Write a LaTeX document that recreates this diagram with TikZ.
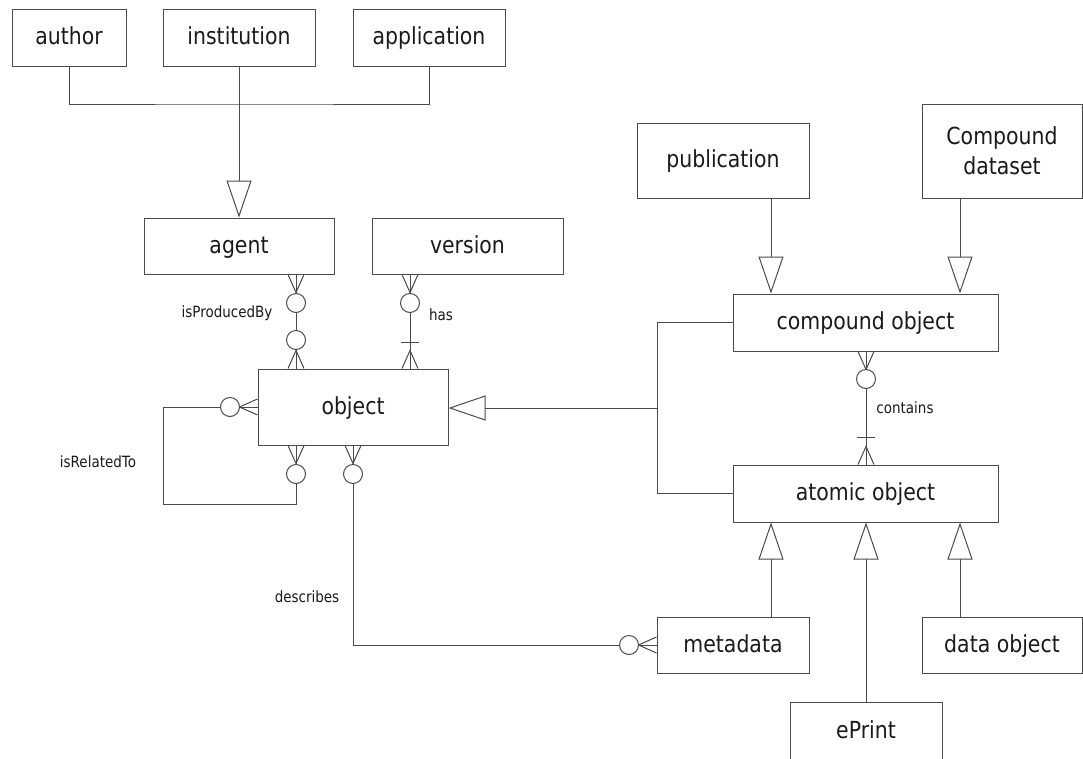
\documentclass[tikz,border=0pt]{standalone}
\usepackage{fontspec}
\setmainfont{DejaVu Sans}[FakeStretch=0.87]
\usetikzlibrary{calc,arrows.meta}
\definecolor{lgray}{HTML}{4A4A4A}
\definecolor{ink}{HTML}{1A1A1A}
\tikzset{
  ent/.style={draw=lgray, line width=1pt, fill=white, text=ink, inner sep=0pt, align=center,
    text height=18pt, text depth=4pt, font=\fontsize{23.5}{30}\selectfont},
  rel/.style={draw=lgray, line width=1pt},
  isa/.style={rel, -{Triangle[open, length=37pt, width=25pt]}},
  ring/.style={circle, draw=lgray, line width=1pt, fill=white, minimum size=19pt, inner sep=0pt},
  lab/.style={text=ink, font=\fontsize{15.5}{18}\selectfont},
  crow/.pic={\draw[rel] (-8,0) -- (0,18) -- (8,0);},
}

\begin{document}
\begin{tikzpicture}[x=1pt, y=-1pt]
  \useasboundingbox (0,0) rectangle (1083,758);
  \clip (0,0) rectangle (1083,758);
  \fill[white] (0,0) rectangle (1083,758);
  % entities
  \node[ent, minimum width=114, minimum height=57] (author) at (69,37.5) {author};
  \node[ent, minimum width=152, minimum height=57] (inst) at (239,37.5) {institution};
  \node[ent, minimum width=152, minimum height=57] (appl) at (429,37.5) {application};
  \node[ent, minimum width=190, minimum height=56] (agent) at (239,246) {agent};
  \node[ent, minimum width=191, minimum height=56] (vers) at (467.5,246) {version};
  \node[ent, minimum width=190, minimum height=76] (obj) at (353,407) {object};
  \node[ent, minimum width=172, minimum height=75] (pub) at (723,160.5) {publication};
  \node[ent, minimum width=160, minimum height=94, text height={}, text depth={}] (cds) at (1002,151) {Compound\\dataset};
  \node[ent, minimum width=265, minimum height=57] (comp) at (865.5,322.5) {compound object};
  \node[ent, minimum width=265, minimum height=57] (atom) at (865.5,493.5) {atomic object};
  \node[ent, minimum width=152, minimum height=56] (meta) at (733,645) {metadata};
  \node[ent, minimum width=160, minimum height=56] (dobj) at (1002,645) {data object};
  \node[ent, minimum width=152, minimum height=58] (eprint) at (866,731) {ePrint};

  % x positions of the connectors
  \coordinate (pbx) at (296,0);
  \coordinate (hsx) at (410,0);
  \coordinate (dsx) at (353,0);
  \coordinate (ca) at (771,0);
  \coordinate (cb) at (866,0);
  \coordinate (cc) at (960,0);

  % agent kinds
  \coordinate (bus) at (239,104);
  \draw[rel] (author.south) |- (bus) -| (appl.south);
  \draw[isa] (inst.south) -- (agent.north);

  % isProducedBy
  \draw[rel] (agent.south -| pbx) -- (obj.north -| pbx);
  \path (agent.south -| pbx) pic {crow};
  \path (obj.north -| pbx) pic[rotate=180] {crow};
  \node[ring] (pb1) at (296,303) {};
  \node[ring] (pb2) at (296,340) {};
  \node[lab] (pblab) at (227,313) {isProducedBy};

  % has
  \draw[rel] (vers.south -| hsx) -- (obj.north -| hsx);
  \path (vers.south -| hsx) pic {crow};
  \path (obj.north -| hsx) pic[rotate=180] {crow};
  \node[ring] (hs1) at (410,303) {};
  \coordinate (hsbar) at (410,342);
  \draw[rel] ([xshift=-9pt]hsbar) -- ([xshift=9pt]hsbar);
  \node[lab] (hslab) at (441,315) {has};

  % isRelatedTo
  \coordinate (rl1) at (163,407);
  \coordinate (rl2) at (163,504);
  \coordinate (rl3) at (296,504);
  \draw[rel] (obj.west) -- (rl1) -- (rl2) -- (rl3) -- (obj.south -| pbx);
  \path (obj.west) pic[rotate=-90] {crow};
  \path (obj.south -| pbx) pic {crow};
  \node[ring] (rl4) at (230,407) {};
  \node[ring] (rl5) at (296,474) {};
  \node[lab] (rllab) at (98,462) {isRelatedTo};

  % describes
  \coordinate (ds1) at (353,645);
  \draw[rel] (obj.south -| dsx) -- (ds1) -- (meta.west);
  \path (obj.south -| dsx) pic {crow};
  \path (meta.west) pic[rotate=-90] {crow};
  \node[ring] (ds2) at (353,474) {};
  \node[ring] (ds3) at (629,645) {};
  \node[lab] (dslab) at (307,597) {describes};

  % contains
  \draw[rel] (comp.south -| cb) -- (atom.north -| cb);
  \path (comp.south -| cb) pic {crow};
  \path (atom.north -| cb) pic[rotate=180] {crow};
  \node[ring] (ct1) at (866,379) {};
  \coordinate (ctbar) at (866,437);
  \draw[rel] ([xshift=-9pt]ctbar) -- ([xshift=9pt]ctbar);
  \node[lab] (ctlab) at (905,408) {contains};

  % object kinds
  \coordinate (br) at (657,408);
  \draw[rel] (comp.west) -| (br) |- (atom.west);
  \draw[isa] (br) -- (obj.east |- br);

  % compound kinds
  \draw[isa] (pub.south -| ca) -- (comp.north -| ca);
  \draw[isa] (cds.south -| cc) -- (comp.north -| cc);

  % atomic kinds
  \draw[isa] (meta.north -| ca) -- (atom.south -| ca);
  \draw[isa] (eprint.north -| cb) -- (atom.south -| cb);
  \draw[isa] (dobj.north -| cc) -- (atom.south -| cc);
\end{tikzpicture}
\end{document}
